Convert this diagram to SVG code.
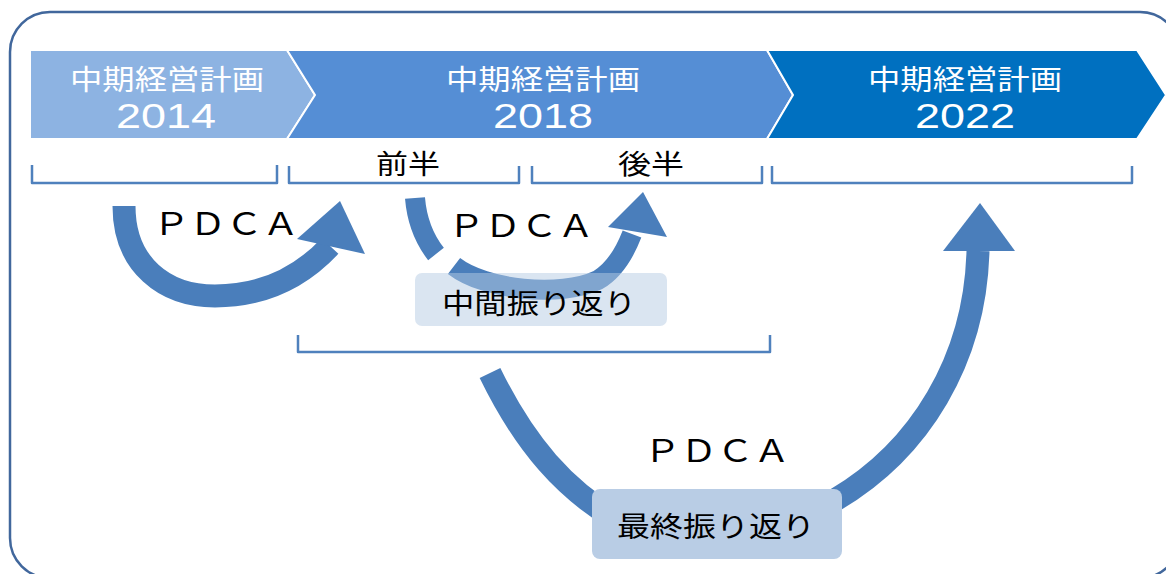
<svg xmlns="http://www.w3.org/2000/svg" width="1166" height="574" viewBox="0 0 1166 574">
<defs>
<style>
.frame{fill:#ffffff;stroke:#41679c;stroke-width:2.5}
.chev{stroke:#ffffff;stroke-width:2}
.c1{fill:#8db3e2}.c2{fill:#558ed5}.c3{fill:#0070c0}
.jp{font-family:"Noto Sans CJK JP","Noto Sans",sans-serif}
.num{font-family:"Liberation Sans",Arial,sans-serif}
.wt{fill:#ffffff}
.bk{fill:#000000}
.brk{fill:none;stroke:#4f81bd;stroke-width:2.5;stroke-linejoin:round}
.shaft{fill:none;stroke:#4a7ebb;stroke-linecap:butt}
.head{fill:#4a7ebb}
</style>
</defs>
<rect class="frame" x="10" y="12" width="1170" height="566" rx="40"/>
<g id="plan2014">
<polygon class="chev c1" points="30,50 287,50 315,95 287,139 30,139"/>
<text class="jp wt" x="167" y="90" font-size="28" text-anchor="middle" textLength="194" lengthAdjust="spacingAndGlyphs">中期経営計画</text>
<text class="num wt" x="166" y="128" font-size="35" text-anchor="middle" textLength="100" lengthAdjust="spacingAndGlyphs">2014</text>
</g>
<g id="plan2018">
<polygon class="chev c2" points="287,50 767,50 793,95 767,139 287,139 315,95"/>
<text class="jp wt" x="543" y="90" font-size="28" text-anchor="middle" textLength="194" lengthAdjust="spacingAndGlyphs">中期経営計画</text>
<text class="num wt" x="543" y="128" font-size="35" text-anchor="middle" textLength="100" lengthAdjust="spacingAndGlyphs">2018</text>
</g>
<g id="plan2022">
<polygon class="chev c3" points="767,50 1137,50 1166,95 1137,139 767,139 793,95"/>
<text class="jp wt" x="965" y="90" font-size="28" text-anchor="middle" textLength="194" lengthAdjust="spacingAndGlyphs">中期経営計画</text>
<text class="num wt" x="965" y="128" font-size="35" text-anchor="middle" textLength="100" lengthAdjust="spacingAndGlyphs">2022</text>
</g>
<g id="brackets">
<path class="brk" d="M32,165 V183 H277 V165"/>
<path class="brk" d="M289,166 V183 H519 V166"/>
<path class="brk" d="M532,166 V183 H762 V166"/>
<path class="brk" d="M772,166 V183 H1132 V166"/>
<path class="brk" d="M298,335 V352 H770 V335"/>
</g>
<g id="half-labels">
<text class="jp bk" x="408" y="174" font-size="27" text-anchor="middle" textLength="64" lengthAdjust="spacingAndGlyphs">前半</text>
<text class="jp bk" x="651" y="174" font-size="27" text-anchor="middle" textLength="66" lengthAdjust="spacingAndGlyphs">後半</text>
</g>
<g id="connectors">
<path class="shaft" stroke-width="23" d="M124,206 C124,265 165,296 215,296 C262,296 300,278 330,246"/>
<polygon class="head" points="297,239 340,201 365,254"/>
<path class="shaft" stroke-width="20" d="M415,198 C417,222 425,240 436,254"/>
<path class="shaft" stroke-width="20" d="M454,266 C485,290 560,298 598,280 C615,270 625,252 632,234"/>
<polygon class="head" points="608,227 643,192 667,237"/>
<path class="shaft" stroke-width="23" d="M490,373 C525,445 565,490 620,522 L835,500 C920,450 975,360 978,251"/>
<polygon class="head" points="943,251 980,203 1015,251"/>
</g>
<g id="pdca-labels">
<text class="jp bk" x="226" y="235" font-size="31" text-anchor="middle" textLength="146" lengthAdjust="spacingAndGlyphs">ＰＤＣＡ</text>
<text class="jp bk" x="521" y="237" font-size="31" text-anchor="middle" textLength="146" lengthAdjust="spacingAndGlyphs">ＰＤＣＡ</text>
<text class="jp bk" x="717" y="462" font-size="31" text-anchor="middle" textLength="146" lengthAdjust="spacingAndGlyphs">ＰＤＣＡ</text>
</g>
<g id="mid-review">
<rect x="415" y="273" width="252" height="53" rx="7" fill="#b6cbe4" fill-opacity="0.5"/>
<text class="jp bk" x="539" y="314" font-size="28" text-anchor="middle" textLength="194" lengthAdjust="spacingAndGlyphs">中間振り返り</text>
</g>
<g id="final-review">
<rect x="592" y="489" width="250" height="70" rx="8" fill="#b9cde5"/>
<text class="jp bk" x="716" y="537" font-size="28" text-anchor="middle" textLength="198" lengthAdjust="spacingAndGlyphs">最終振り返り</text>
</g>
</svg>
